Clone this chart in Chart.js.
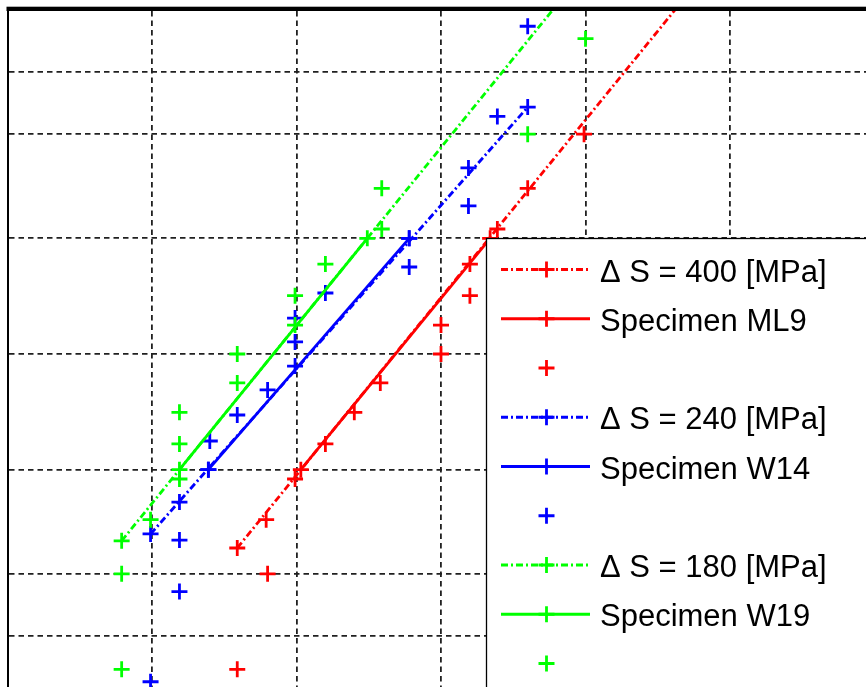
<!DOCTYPE html>
<html>
<head>
<meta charset="utf-8">
<script src="https://cdn.jsdelivr.net/npm/chart.js@4.4.0/dist/chart.umd.min.js"></script>
<style>
    html, body { margin: 0; padding: 0; background: #fff; overflow: hidden; }
    canvas { display: block; }
</style>
</head>
<body>
<canvas id="probChart" width="880" height="700"></canvas>
<script>
// Gráfico de probabilidade normal (estilo normplot)

// --- grelha ---
const xGrid = [1, 2, 3, 4, 5];
const tickProbs = [0.05, 0.10, 0.25, 0.50, 0.75, 0.90, 0.95];

// --- ΔS = 400 [MPa] / Specimen ML9 ---
const redX = [1.59, 1.80, 1.79, 1.99, 2.20, 2.40, 2.58, 3.00, 3.00, 3.20, 3.20, 3.39, 3.60, 3.99, 6.10];
const redProb = [0.033, 0.100, 0.167, 0.233, 0.300, 0.367, 0.433, 0.500, 0.567, 0.633, 0.700, 0.767, 0.833, 0.900, 0.967];
const redQuartX = [2.03, 3.34];
const redFitX = [1.59, 6.10];
const redFitProb = [0.129, 0.9998];

// --- ΔS = 240 [MPa] / Specimen W14 ---
const blueX = [0.99, 1.19, 1.19, 1.19, 1.39, 1.40, 1.59, 1.80, 1.99, 1.99, 1.99, 2.20, 2.78, 2.78, 3.19, 3.19, 3.39, 3.60];
const blueProb = [0.028, 0.083, 0.139, 0.194, 0.250, 0.306, 0.361, 0.417, 0.472, 0.528, 0.583, 0.639, 0.694, 0.750, 0.806, 0.861, 0.917, 0.972];
const blueQuartX = [1.39, 2.78];
const blueFitX = [0.99, 3.60];
const blueFitProb = [0.147, 0.925];

// --- ΔS = 180 [MPa] / Specimen W19 ---
const greenX = [0.79, 0.79, 0.99, 1.19, 1.19, 1.19, 1.59, 1.59, 1.99, 1.99, 2.20, 2.59, 2.59, 3.60, 4.00];
const greenProb = [0.033, 0.100, 0.167, 0.233, 0.300, 0.367, 0.433, 0.500, 0.567, 0.633, 0.700, 0.767, 0.833, 0.900, 0.967];
const greenQuartX = [1.19, 2.49];
const greenFitX = [0.79, 4.00];
const greenFitProb = [0.138, 0.9875];

const quartProb = [0.25, 0.75];

const labels = ['\u0394 S = 400 [MPa]', 'Specimen ML9', '',
                '\u0394 S = 240 [MPa]', 'Specimen W14', '',
                '\u0394 S = 180 [MPa]', 'Specimen W19', ''];

// Inversa da normal padrão (algoritmo de Acklam)
function norminv(p) {
    const a = [-3.969683028665376e+01, 2.209460984245205e+02, -2.759285104469687e+02, 1.383577518672690e+02, -3.066479806614716e+01, 2.506628277459239e+00];
    const b = [-5.447609879822406e+01, 1.615858368580409e+02, -1.556989798598866e+02, 6.680131188771972e+01, -1.328068155288572e+01];
    const c = [-7.784894002430293e-03, -3.223964580411365e-01, -2.400758277161838e+00, -2.549732539343734e+00, 4.374664141464968e+00, 2.938163982698783e+00];
    const d = [7.784695709041462e-03, 3.224671290700398e-01, 2.445134137142996e+00, 3.754408661907416e+00];
    const pl = 0.02425;
    let q, r;
    if (p < pl) {
        q = Math.sqrt(-2 * Math.log(p));
        return (((((c[0]*q + c[1])*q + c[2])*q + c[3])*q + c[4])*q + c[5]) / ((((d[0]*q + d[1])*q + d[2])*q + d[3])*q + 1);
    }
    if (p > 1 - pl) {
        q = Math.sqrt(-2 * Math.log(1 - p));
        return -(((((c[0]*q + c[1])*q + c[2])*q + c[3])*q + c[4])*q + c[5]) / ((((d[0]*q + d[1])*q + d[2])*q + d[3])*q + 1);
    }
    q = p - 0.5;
    r = q * q;
    return (((((a[0]*r + a[1])*r + a[2])*r + a[3])*r + a[4])*r + a[5])*q / (((((b[0]*r + b[1])*r + b[2])*r + b[3])*r + b[4])*r + 1);
}

const toPoints = (xs, ps) => xs.map((x, i) => ({ x: x, y: norminv(ps[i]) }));

const DASHDOT = [7, 3, 2, 3];

function fitSet(label, color, xs, ps) {
    return { label, data: toPoints(xs, ps), borderColor: color, showLine: true, borderWidth: 2.8, borderDash: DASHDOT };
}
function quartSet(label, color, xs) {
    return { label, data: toPoints(xs, quartProb), borderColor: color, showLine: true, borderWidth: 2.8, borderDash: [] };
}
function dataSet(label, color, xs, ps) {
    return { label, data: toPoints(xs, ps), borderColor: color, showLine: false };
}

const datasets = [
    fitSet(labels[0], '#ff0000', redFitX, redFitProb),
    quartSet(labels[1], '#ff0000', redQuartX),
    dataSet(labels[2], '#ff0000', redX, redProb),
    fitSet(labels[3], '#0000ff', blueFitX, blueFitProb),
    quartSet(labels[4], '#0000ff', blueQuartX),
    dataSet(labels[5], '#0000ff', blueX, blueProb),
    fitSet(labels[6], '#00ff00', greenFitX, greenFitProb),
    quartSet(labels[7], '#00ff00', greenQuartX),
    dataSet(labels[8], '#00ff00', greenX, greenProb)
];
datasets.forEach((ds, i) => {
    ds.order = datasets.length - i;   // os últimos ficam por cima, como no MATLAB
    ds.pointStyle = 'cross';
    ds.pointRadius = 8;
    ds.pointHoverRadius = 8;
    ds.pointBorderWidth = 2.8;
    ds.pointBorderColor = ds.borderColor;
    ds.backgroundColor = ds.borderColor;
    ds.fill = false;
    ds.tension = 0;
});

// Moldura de cima + legenda desenhada à mão (caixa branca sobre o gráfico)
const frameAndLegend = {
    id: 'frameAndLegend',
    afterDraw(chart) {
        const ctx = chart.ctx;
        const area = chart.chartArea;
        ctx.save();

        ctx.fillStyle = '#000';
        ctx.fillRect(area.left - 1, area.top - 4.3, chart.width, 4.3);

        const boxL = 486.5, boxT = 238.5;
        ctx.fillStyle = '#fff';
        ctx.fillRect(boxL, boxT, 420, 500);
        ctx.strokeStyle = '#000';
        ctx.lineWidth = 1.3;
        ctx.strokeRect(boxL, boxT, 420, 500);

        ctx.font = '31px "Liberation Sans", Arial, sans-serif';
        ctx.textBaseline = 'alphabetic';
        chart.data.datasets.forEach((ds, i) => {
            const y = 269.5 + i * 49.25;
            const color = ds.borderColor;
            ctx.strokeStyle = color;
            if (ds.showLine) {
                ctx.lineWidth = ds.borderWidth;
                ctx.setLineDash(ds.borderDash || []);
                ctx.beginPath();
                ctx.moveTo(501, y);
                ctx.lineTo(590, y);
                ctx.stroke();
                ctx.setLineDash([]);
            }
            ctx.lineWidth = ds.pointBorderWidth;
            ctx.beginPath();
            ctx.moveTo(546.5 - 8, y); ctx.lineTo(546.5 + 8, y);
            ctx.moveTo(546.5, y - 8); ctx.lineTo(546.5, y + 8);
            ctx.stroke();
            if (ds.label) {
                ctx.fillStyle = '#000';
                ctx.fillText(ds.label, 600, y + 12);
            }
        });
        ctx.restore();
    }
};

const gridLine = {
    color: '#202020',
    lineWidth: 1.8,
    drawTicks: false,
    drawOnChartArea: true
};

new Chart(document.getElementById('probChart'), {
    type: 'scatter',
    data: { datasets },
    options: {
        responsive: false,
        animation: false,
        layout: { autoPadding: false, padding: { left: 7.5, top: 11, right: 5.5, bottom: 3 } },
        plugins: { legend: { display: false }, tooltip: { enabled: false } },
        scales: {
            x: {
                type: 'linear',
                min: 0,
                max: 6,
                afterBuildTicks: axis => { axis.ticks = xGrid.map(v => ({ value: v })); },
                ticks: { display: false },
                grid: gridLine,
                border: { display: false, dash: [5.5, 4] }
            },
            y: {
                type: 'linear',
                min: -2,
                max: 2,
                afterBuildTicks: axis => { axis.ticks = tickProbs.map(p => ({ value: norminv(p) })); },
                ticks: { display: false },
                grid: gridLine,
                border: { display: true, color: '#000', width: 2, dash: [5.5, 4] }
            }
        }
    },
    plugins: [frameAndLegend]
});
</script>
</body>
</html>
